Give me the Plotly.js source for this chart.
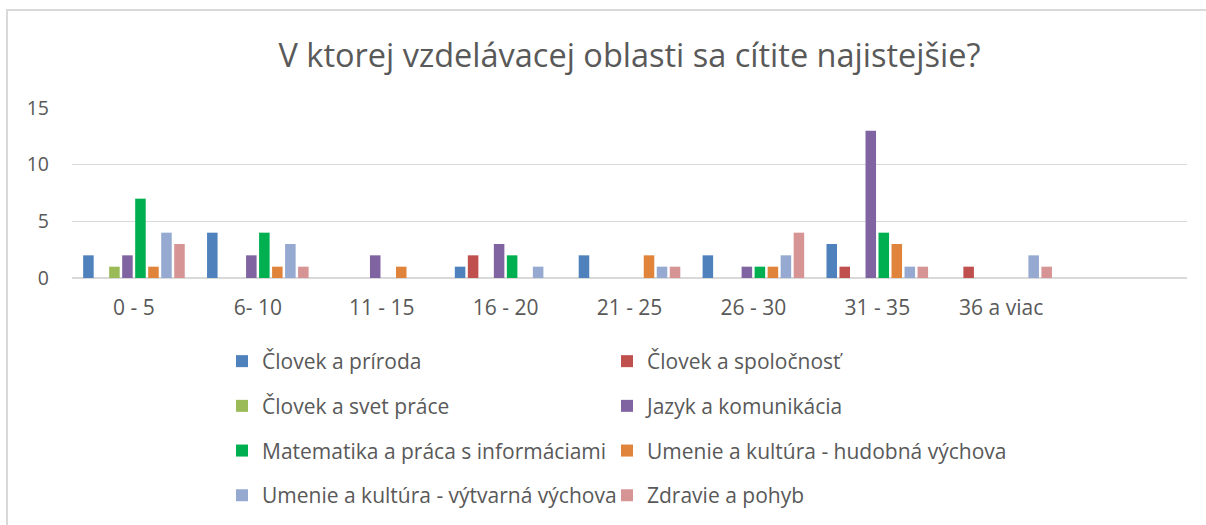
<!DOCTYPE html>
<html>
<head>
<meta charset="utf-8">
<script src="https://cdn.plot.ly/plotly-3.0.1.min.js"></script>
<style>
  html, body { margin: 0; padding: 0; background: #ffffff; }
  #chart { width: 1206px; height: 525px; }
</style>
</head>
<body>
<div id="chart"></div>
<script>
// ---- Data ----
var categories = ["0 - 5", "6- 10", "11 - 15", "16 - 20", "21 - 25", "26 - 30", "31 - 35", "36 a viac"];

var seriesNames = [
  "Človek a príroda",
  "Človek a spoločnosť",
  "Človek a svet práce",
  "Jazyk a komunikácia",
  "Matematika a práca s informáciami",
  "Umenie a kultúra - hudobná výchova",
  "Umenie a kultúra - výtvarná výchova",
  "Zdravie a pohyb"
];

var clovekPriroda      = [2, 4, 0, 1, 2, 2, 3, 0];
var clovekSpolocnost   = [0, 0, 0, 2, 0, 0, 1, 1];
var clovekSvetPrace    = [1, 0, 0, 0, 0, 0, 0, 0];
var jazykKomunikacia   = [2, 2, 2, 3, 0, 1, 13, 0];
var matematika         = [7, 4, 0, 2, 0, 1, 4, 0];
var hudobnaVychova     = [1, 1, 1, 0, 2, 1, 3, 0];
var vytvarnaVychova    = [4, 3, 0, 1, 1, 2, 1, 2];
var zdraviePohyb       = [3, 1, 0, 0, 1, 4, 1, 1];

var seriesValues = [clovekPriroda, clovekSpolocnost, clovekSvetPrace, jazykKomunikacia,
                    matematika, hudobnaVychova, vytvarnaVychova, zdraviePohyb];

var yTickVals = [0, 5, 10, 15];

// ---- Styles ----
var colors = ["#4F81BD", "#C0504D", "#9BBB59", "#8064A2", "#00B050", "#E0843C", "#95A9D1", "#D69494"];
var FONT = "'Open Sans', 'Noto Sans', sans-serif";
var TXT = "#595959";

var W = 1206, H = 525;
var M = {l: 72, r: 19, t: 108, b: 247, autoexpand: false};
var pw = W - M.l - M.r, ph = H - M.t - M.b;
function px2x(px) { return (px - M.l) / pw; }
function py2y(py) { return (H - M.b - py) / ph; }

var traces = seriesNames.map(function (name, i) {
  return {
    type: "bar",
    name: name,
    x: categories,
    y: seriesValues[i],
    marker: {color: colors[i], line: {width: 0}},
    legend: (i % 2 === 0) ? "legend" : "legend2",
    legendgroup: "g" + i,
    hoverinfo: "x+y+name"
  };
});

var legendCommon = {
  orientation: "v",
  xanchor: "left",
  yanchor: "top",
  font: {family: FONT, size: 21, color: TXT},
  bgcolor: "rgba(0,0,0,0)",
  tracegroupgap: 14.4,
  itemclick: false,
  itemdoubleclick: false
};

var layout = {
  width: W,
  height: H,
  margin: M,
  paper_bgcolor: "#ffffff",
  plot_bgcolor: "#ffffff",
  font: {family: FONT, color: TXT},
  title: {
    text: "V ktorej vzdelávacej oblasti sa cítite najistejšie?",
    font: {family: FONT, size: 32.5, color: TXT},
    x: 0.5,
    xref: "paper",
    xanchor: "center",
    y: 1 - 56 / H,
    yanchor: "middle"
  },
  barmode: "group",
  bargap: 0.16,
  bargroupgap: 0.19,
  xaxis: {
    type: "category",
    range: [-0.5, 8.5],
    showgrid: false,
    showline: false,
    zeroline: false,
    ticks: "",
    tickfont: {family: FONT, size: 21, color: TXT},
    ticklabelstandoff: 15,
    fixedrange: true
  },
  yaxis: {
    range: [0, 15],
    tickvals: yTickVals,
    ticktext: yTickVals.map(String),
    showgrid: true,
    gridcolor: "#D9D9D9",
    gridwidth: 1,
    zeroline: true,
    zerolinecolor: "#D9D9D9",
    zerolinewidth: 2,
    showline: false,
    ticks: "",
    tickfont: {family: FONT, size: 19.5, color: TXT},
    ticklabelstandoff: 22,
    fixedrange: true
  },
  legend: Object.assign({}, legendCommon, {x: px2x(222), y: py2y(341)}),
  legend2: Object.assign({}, legendCommon, {x: px2x(607), y: py2y(341)}),
  shapes: [
    {type: "line", xref: "paper", yref: "paper", x0: px2x(7), x1: px2x(7), y0: py2y(9), y1: py2y(530),
     line: {color: "#D9D9D9", width: 2}},
    {type: "line", xref: "paper", yref: "paper", x0: px2x(6), x1: px2x(1210), y0: py2y(10), y1: py2y(10),
     line: {color: "#D9D9D9", width: 2}}
  ],
  showlegend: true
};

Plotly.newPlot("chart", traces, layout, {displayModeBar: false, staticPlot: false});
</script>
</body>
</html>
